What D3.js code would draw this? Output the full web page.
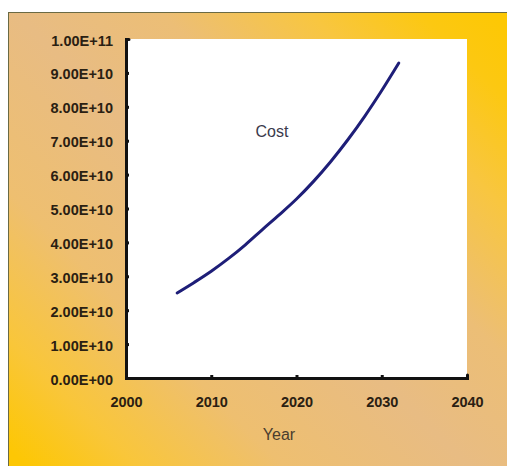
<!DOCTYPE html>
<html>
<head>
<meta charset="utf-8">
<script src="https://cdn.jsdelivr.net/npm/d3@7"></script>
<style>
  html, body { margin: 0; padding: 0; background: #ffffff; }
  svg { display: block; }
</style>
</head>
<body>
<svg id="chart" width="507" height="466"></svg>
<script>
// Projected cost by year
const years = [2006, 2008, 2010, 2012, 2014, 2016, 2018, 2020, 2022, 2024, 2026, 2028, 2030, 2032];
const costs = [2.51e10, 2.82e10, 3.15e10, 3.52e10, 3.93e10, 4.38e10, 4.82e10, 5.28e10,
               5.80e10, 6.38e10, 7.02e10, 7.72e10, 8.48e10, 9.29e10];

const xTicks = [2000, 2010, 2020, 2030, 2040];
const yTicks = [0, 1e10, 2e10, 3e10, 4e10, 5e10, 6e10, 7e10, 8e10, 9e10, 1e11];

const seriesLabel = "Cost";
const xTitle = "Year";

const svg = d3.select("#chart");
const W = 507, H = 466;

// Background panel with a two-way gold/tan gradient
const defs = svg.append("defs");
const grad = defs.append("linearGradient")
  .attr("id", "panelGrad")
  .attr("gradientUnits", "userSpaceOnUse")
  .attr("x1", 30).attr("y1", 470)
  .attr("x2", 490).attr("y2", 10);
[
  [0.00, "#fdc704"],
  [0.12, "#f9c63a"],
  [0.28, "#eebf70"],
  [0.48, "#e8bc83"],
  [0.64, "#ecbe76"],
  [0.80, "#f8c640"],
  [0.92, "#fcc812"],
  [1.00, "#fdc804"]
].forEach(([o, c]) => grad.append("stop").attr("offset", o).attr("stop-color", c));

svg.append("rect")
  .attr("x", 8.5).attr("y", 12.5)
  .attr("width", W + 10).attr("height", H + 10)
  .attr("fill", "url(#panelGrad)")
  .attr("stroke", "#6a6a44")
  .attr("stroke-width", 1);

// Plot area
const plotL = 126, plotR = 467, plotT = 39, plotB = 378;
const x = d3.scaleLinear().domain([2000, 2040]).range([plotL, plotR]);
const y = d3.scaleLinear().domain([0, 1e11]).range([plotB, plotT]);

svg.append("rect")
  .attr("x", plotL).attr("y", plotT)
  .attr("width", plotR - plotL).attr("height", plotB - plotT)
  .attr("fill", "#ffffff");

function sci(v) {
  if (v === 0) return "0.00E+00";
  const e = Math.floor(Math.log10(v));
  const m = v / Math.pow(10, e);
  return m.toFixed(2) + "E+" + String(e).padStart(2, "0");
}

const textColor = "#2a2012";

const yAxis = svg.append("g")
  .attr("transform", `translate(${plotL},0)`)
  .call(d3.axisLeft(y).tickValues(yTicks).tickFormat(sci).tickSize(-3).tickPadding(13));

const xAxis = svg.append("g")
  .attr("transform", `translate(0,${plotB})`)
  .call(d3.axisBottom(x).tickValues(xTicks).tickFormat(d3.format("d")).tickSize(-3).tickPadding(19));

[yAxis, xAxis].forEach(g => {
  g.select(".domain").attr("stroke", "#111").attr("stroke-width", 3).attr("stroke-linecap", "round");
  g.selectAll(".tick line").attr("stroke", "#111").attr("stroke-width", 3);
  g.selectAll(".tick text")
    .attr("fill", textColor)
    .style("font-family", "'Liberation Sans', Arial, sans-serif")
    .style("font-weight", "bold")
    .style("font-size", "14.5px");
});
yAxis.selectAll(".tick text").attr("dy", "0.42em");

// Cost curve
const line = d3.line()
  .x((d, i) => x(years[i]))
  .y(d => y(d))
  .curve(d3.curveMonotoneX);

svg.append("path")
  .datum(costs)
  .attr("d", line)
  .attr("fill", "none")
  .attr("stroke", "#1e1e78")
  .attr("stroke-width", 3)
  .attr("stroke-linecap", "round");

// Series label
svg.append("text")
  .attr("x", 272).attr("y", 137)
  .attr("text-anchor", "middle")
  .attr("fill", "#3a3a4c")
  .style("font-family", "'Liberation Sans', Arial, sans-serif")
  .style("font-size", "16px")
  .text(seriesLabel);

// Axis title
svg.append("text")
  .attr("x", 279).attr("y", 440)
  .attr("text-anchor", "middle")
  .attr("fill", "#4a3d2e")
  .style("font-family", "'Liberation Sans', Arial, sans-serif")
  .style("font-size", "16px")
  .text(xTitle);
</script>
</body>
</html>
